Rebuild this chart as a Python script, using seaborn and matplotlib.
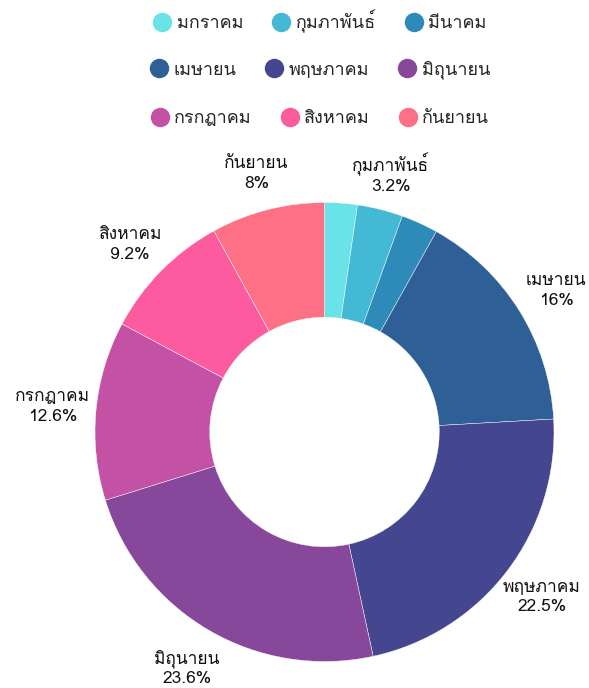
import numpy as np
import matplotlib
matplotlib.use("Agg")
import matplotlib.pyplot as plt
import seaborn as sns
from matplotlib import font_manager as fm
from matplotlib.ft2font import FT2Font
from matplotlib.lines import Line2D

months = ["มกราคม", "กุมภาพันธ์", "มีนาคม", "เมษายน", "พฤษภาคม",
          "มิถุนายน", "กรกฎาคม", "สิงหาคม", "กันยายน"]
shares = [2.3, 3.2, 2.6, 16.0, 22.5, 23.6, 12.6, 9.2, 8.0]
colors = ["#69E3E7", "#43B9D6", "#2E8BB9", "#2E5F97", "#44478F",
          "#87489B", "#C452A4", "#FD5BA0", "#FE7085"]

sns.set_theme(style="white")

# find a font with Thai glyphs
thai_family = None
for f in fm.fontManager.ttflist:
    try:
        cm = FT2Font(f.fname).get_charmap()
        if 0x0E01 in cm and 0x0E21 in cm:
            thai_family = f.name
            break
    except Exception:
        pass
fams = ([thai_family] if thai_family else []) + ["DejaVu Sans"]
plt.rcParams["font.family"] = fams

W, H = 589, 688
fig = plt.figure(figsize=(W / 100, H / 100), dpi=100)
cx, cy, R = 324.5, 432, 229.5
ax = fig.add_axes([(cx - R) / W, (H - cy - R) / H, 2 * R / W, 2 * R / H])

wedges, _ = ax.pie(shares, colors=colors, startangle=90, counterclock=False,
                   radius=1, wedgeprops=dict(width=0.5, edgecolor="white", linewidth=0.3))
ax.set_xlim(-1, 1)
ax.set_ylim(-1, 1)
ax.set_aspect("equal")
ax.axis("off")

total = sum(shares)
cum = 0
for m, s in zip(months, shares):
    mid = (cum + s / 2) / total * 360
    cum += s
    if s < 3:
        continue
    ang = np.deg2rad(90 - mid)
    r = 1.19
    x, y = r * np.cos(ang), r * np.sin(ang)
    if y > 0:
        y -= 0.03 * np.sin(ang)
    lbl = f"{s:g}%"
    ax.text(x, y, f"{m}\n{lbl}", ha="center", va="center",
            fontsize=12.5, color="#111111", linespacing=1.3, clip_on=False)

# legend rows (flowing layout)
rows = [months[0:3], months[3:6], months[6:9]]
row_y = [21, 70, 118]
for ri, (row, yy) in enumerate(zip(rows, row_y)):
    handles = [Line2D([], [], marker="o", linestyle="none", markersize=14,
                      markerfacecolor=colors[months.index(m)], markeredgewidth=0)
               for m in row]
    fig.legend(handles, row, loc="center", bbox_to_anchor=(320 / W, 1 - yy / H),
               ncol=3, frameon=False, fontsize=13, handletextpad=0.3,
               columnspacing=1.6, handlelength=1.0, borderaxespad=0)

fig.savefig("out.png", dpi=100, facecolor="white")
